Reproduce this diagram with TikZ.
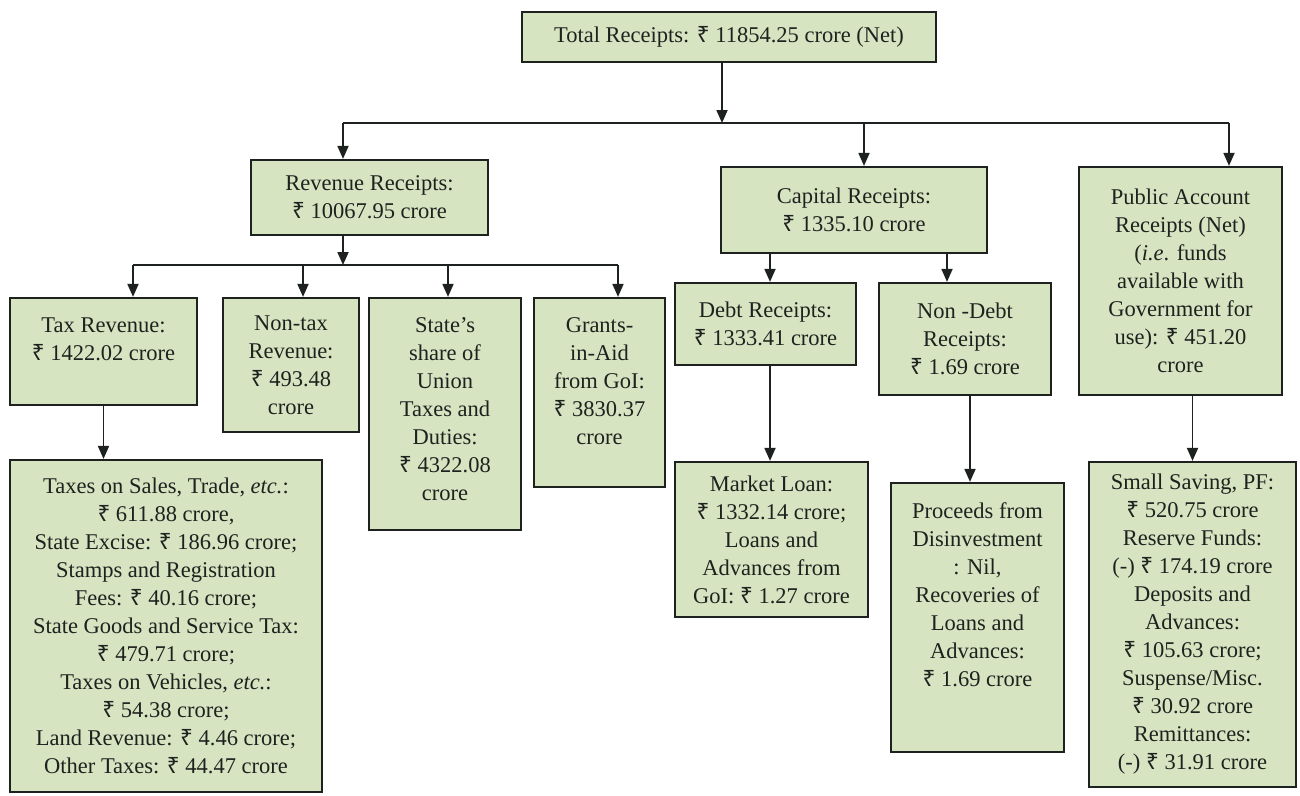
\documentclass[tikz,border=0pt]{standalone}
\usepackage{fontspec}
\setmainfont{Liberation Serif}
\newfontfamily\rsfont{Noto Sans}
\usetikzlibrary{arrows.meta,positioning}
\definecolor{boxgreen}{RGB}{214,228,194}
\definecolor{ink}{RGB}{30,34,30}
\newcommand{\gap}[1]{\rule[-#1]{0pt}{#1}}
\newcommand{\Rs}{{\rsfont ₹}\ }

\begin{document}
\begin{tikzpicture}[x=1pt, y=-1pt,
  font=\fontsize{22.5}{28}\selectfont,
  blk/.style={draw=ink, fill=boxgreen, line width=2.2pt, align=center, inner sep=2pt, text=ink},
  arr/.style={-{Triangle[length=13pt,width=11pt]}, line width=1.8pt, draw=ink}]
\useasboundingbox (0,0) rectangle (1300,795);

% boxes
\node[blk, minimum width=414pt, minimum height=50pt] (total) at (729,37) {Total Receipts: \Rs 11854.25 crore (Net)};
\node[blk, minimum width=237pt, minimum height=75pt] (rev) at (369.5,197.5) {Revenue Receipts:\\\Rs 10067.95 crore};
\node[blk, minimum width=266pt, minimum height=86pt] (cap) at (854,210) {Capital Receipts:\\\Rs 1335.10 crore};
\node[blk, minimum width=203pt, minimum height=228pt] (pub) at (1180.5,281) {Public Account\\Receipts (Net)\\(\textit{i.e}. funds\\available with\\Government for\\use): \Rs 451.20\\crore};
\node[blk, minimum width=187pt, minimum height=107pt] (tax) at (103.5,351.5) {Tax Revenue:\\\Rs 1422.02 crore\gap{24pt}};
\node[blk, minimum width=136pt, minimum height=134pt] (nontax) at (291,365) {Non-tax\\Revenue:\\\Rs 493.48\\crore};
\node[blk, minimum width=152pt, minimum height=232pt] (share) at (445,414) {State's\\share of\\Union\\Taxes and\\Duties:\\\Rs 4322.08\\crore\gap{10pt}};
\node[blk, minimum width=131pt, minimum height=189pt] (grants) at (599.5,392.5) {Grants-\\in-Aid\\from GoI:\\\Rs 3830.37\\crore\gap{22pt}};
\node[blk, minimum width=181pt, minimum height=82pt] (debt) at (765.5,324) {Debt Receipts:\\\Rs 1333.41 crore};
\node[blk, minimum width=172pt, minimum height=112pt] (nondebt) at (965,339) {Non -Debt\\Receipts:\\\Rs 1.69 crore};
\node[blk, minimum width=312pt, minimum height=332pt] (taxdet) at (166,626) {Taxes on Sales, Trade, \textit{etc.}:\\\Rs 611.88 crore,\\State Excise: \Rs 186.96 crore;\\Stamps and Registration\\Fees: \Rs 40.16 crore;\\State Goods and Service Tax:\\\Rs 479.71 crore;\\Taxes on Vehicles, \textit{etc.}:\\\Rs 54.38 crore;\\Land Revenue: \Rs 4.46 crore;\\Other Taxes: \Rs 44.47 crore};
\node[blk, minimum width=193pt, minimum height=155pt] (market) at (771.5,539.5) {Market Loan:\\\Rs 1332.14 crore;\\Loans and\\Advances from\\GoI: \Rs 1.27 crore};
\node[blk, minimum width=173pt, minimum height=269pt] (proceeds) at (977.5,617.5) {Proceeds from\\Disinvestment\\: Nil,\\Recoveries of\\Loans and\\Advances:\\\Rs 1.69 crore\gap{46pt}};
\node[blk, minimum width=207pt, minimum height=325pt] (small) at (1192.5,624.5) {Small Saving, PF:\\\Rs 520.75 crore\\Reserve Funds:\\(-) \Rs 174.19 crore\\Deposits and\\Advances:\\\Rs 105.63 crore;\\Suspense/Misc.\\\Rs 30.92 crore\\Remittances:\\(-) \Rs 31.91 crore};

% top level bus
\coordinate (m0) at (722,123);
\coordinate (m1) at (343,123);
\coordinate (m2) at (864,123);
\coordinate (m3) at (1229,123);
\draw[arr] (total.south -| m0) -- (m0);
\draw[ink, line width=1.8pt] (m1) -- (m3);
\draw[arr] (m1) -- (m1 |- rev.north);
\draw[arr] (m2) -- (m2 |- cap.north);
\draw[arr] (m3) -- (m3 |- pub.north);

% revenue bus
\coordinate (r0) at (343,265);
\coordinate (r1) at (133,265);
\coordinate (r2) at (303,265);
\coordinate (r3) at (448,265);
\coordinate (r4) at (618,265);
\draw[arr] (rev.south -| r0) -- (r0);
\draw[ink, line width=1.8pt] (r1) -- (r4);
\draw[arr] (r1) -- (r1 |- tax.north);
\draw[arr] (r2) -- (r2 |- nontax.north);
\draw[arr] (r3) -- (r3 |- share.north);
\draw[arr] (r4) -- (r4 |- grants.north);

% capital side
\draw[arr] ([xshift=4.5pt]debt.north |- cap.south) -- ([xshift=4.5pt]debt.north);
\draw[arr] ([xshift=-18pt]nondebt.north |- cap.south) -- ([xshift=-18pt]nondebt.north);

% second level
\draw[arr] (tax.south) -- (tax.south |- taxdet.north);
\draw[arr] ([xshift=4.5pt]debt.south) -- ([xshift=4.5pt]debt.south |- market.north);
\draw[arr] ([xshift=5pt]nondebt.south) -- ([xshift=5pt]nondebt.south |- proceeds.north);
\draw[arr] (pub.south -| small.north) -- (small.north);
\end{tikzpicture}
\end{document}
